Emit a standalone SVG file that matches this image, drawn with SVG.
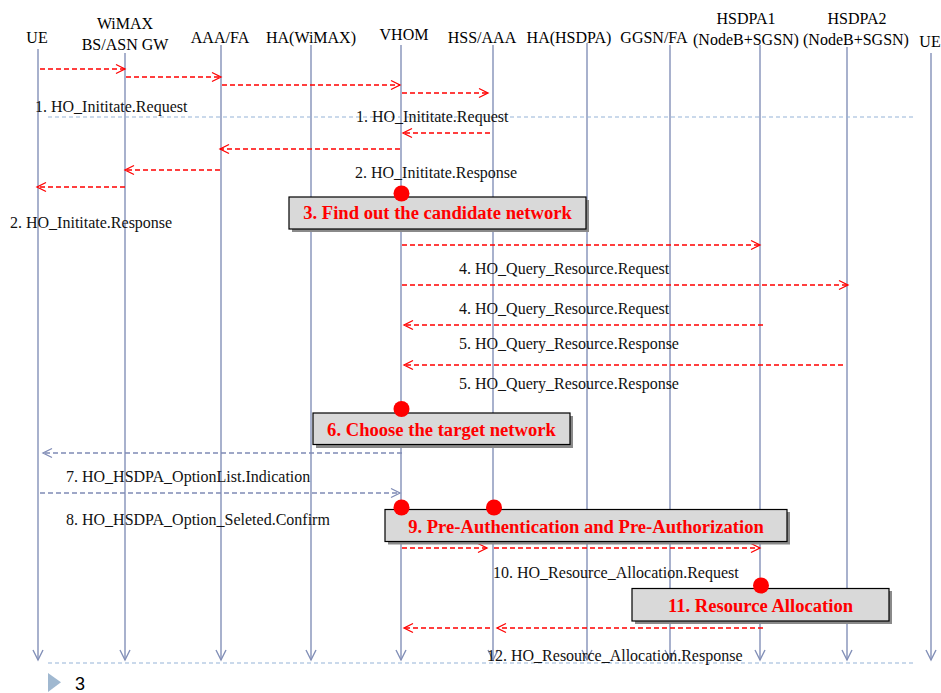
<svg xmlns="http://www.w3.org/2000/svg" width="941" height="693" viewBox="0 0 941 693">
  <style>
    .hdr { font-family: "Liberation Serif", "Times New Roman", serif; font-size: 16px; fill: #000; text-anchor: middle; }
    .lbl { font-family: "Liberation Serif", "Times New Roman", serif; font-size: 16px; fill: #111; }
    .life { stroke: #8390b8; stroke-width: 1.4; fill: none; }
    .red { stroke: #ff0000; stroke-width: 1.3; stroke-dasharray: 5 3; fill: none; }
    .blu { stroke: #7f8bb5; stroke-width: 1.3; stroke-dasharray: 5 3; fill: none; }
    .sep { stroke: #95b3d7; stroke-width: 1; stroke-dasharray: 4 3; fill: none; }
    .box { fill: #d9d9d9; stroke: #000; stroke-width: 1.2; }
    .shadow { fill: #8a8a8a; }
    .dot { fill: #ff0000; }
    .step { font-family: "Liberation Serif", "Times New Roman", serif; font-size: 18.6px; font-weight: bold; fill: #ff0000; text-anchor: middle; }
  </style>
  <defs>
    <marker id="arrRed" markerUnits="userSpaceOnUse" markerWidth="10" markerHeight="10" refX="9" refY="4.5" orient="auto" overflow="visible">
      <path d="M0,0 L9,4.5 L0,9" fill="none" stroke="#ff0000" stroke-width="1.3"/>
    </marker>
    <marker id="arrBlu" markerUnits="userSpaceOnUse" markerWidth="10" markerHeight="10" refX="9" refY="4.5" orient="auto" overflow="visible">
      <path d="M0,0 L9,4.5 L0,9" fill="none" stroke="#7f8bb5" stroke-width="1.3"/>
    </marker>
    <marker id="arrLife" markerUnits="userSpaceOnUse" markerWidth="12" markerHeight="12" refX="10" refY="5" orient="auto" overflow="visible">
      <path d="M0,0 L10,5 L0,10" fill="none" stroke="#8390b8" stroke-width="1.4"/>
    </marker>
  </defs>

  <rect width="941" height="693" fill="#ffffff"/>

  <!-- entity headers -->
  <g id="ue-left"><text class="hdr" x="37" y="43">UE</text></g>
  <g id="wimax-bs"><text class="hdr" x="125" y="29">WiMAX</text><text class="hdr" x="125" y="50">BS/ASN GW</text></g>
  <g id="aaa-fa"><text class="hdr" x="220" y="43">AAA/FA</text></g>
  <g id="ha-wimax"><text class="hdr" x="311" y="43">HA(WiMAX)</text></g>
  <g id="vhom"><text class="hdr" x="404" y="40">VHOM</text></g>
  <g id="hss-aaa"><text class="hdr" x="482" y="43">HSS/AAA</text></g>
  <g id="ha-hsdpa"><text class="hdr" x="569" y="43">HA(HSDPA)</text></g>
  <g id="ggsn-fa"><text class="hdr" x="654" y="43">GGSN/FA</text></g>
  <g id="hsdpa1"><text class="hdr" x="746" y="24">HSDPA1</text><text class="hdr" x="746" y="45">(NodeB+SGSN)</text></g>
  <g id="hsdpa2"><text class="hdr" x="857" y="24">HSDPA2</text><text class="hdr" x="856" y="45">(NodeB+SGSN)</text></g>
  <g id="ue-right"><text class="hdr" x="930" y="47">UE</text></g>

  <!-- lifelines -->
  <g id="lifelines">
    <path class="life" d="M38,49 V660" marker-end="url(#arrLife)"/>
    <path class="life" d="M125,53 V660" marker-end="url(#arrLife)"/>
    <path class="life" d="M221,45 V660" marker-end="url(#arrLife)"/>
    <path class="life" d="M311,45 V660" marker-end="url(#arrLife)"/>
    <path class="life" d="M401,45 V660" marker-end="url(#arrLife)"/>
    <path class="life" d="M493,45 V660" marker-end="url(#arrLife)"/>
    <path class="life" d="M587,43 V660" marker-end="url(#arrLife)"/>
    <path class="life" d="M670,45 V660" marker-end="url(#arrLife)"/>
    <path class="life" d="M760,45 V660" marker-end="url(#arrLife)"/>
    <path class="life" d="M847,47 V660" marker-end="url(#arrLife)"/>
    <path class="life" d="M931,53 V660" marker-end="url(#arrLife)"/>
  </g>

  <!-- messages -->
  <g id="connectors">
    <line class="sep" x1="48" y1="117" x2="915" y2="117"/>
    <line class="sep" x1="48" y1="663" x2="915" y2="663"/>

    <!-- 1. initiate request chain -->
    <line class="red" x1="40" y1="69" x2="125" y2="69" marker-end="url(#arrRed)"/>
    <line class="red" x1="126" y1="77" x2="221" y2="77" marker-end="url(#arrRed)"/>
    <line class="red" x1="222" y1="85" x2="400" y2="85" marker-end="url(#arrRed)"/>
    <line class="red" x1="402" y1="93" x2="488" y2="93" marker-end="url(#arrRed)"/>

    <!-- 2. initiate response chain -->
    <line class="red" x1="490" y1="133" x2="403" y2="133" marker-end="url(#arrRed)"/>
    <line class="red" x1="400" y1="149" x2="220" y2="149" marker-end="url(#arrRed)"/>
    <line class="red" x1="220" y1="170" x2="125" y2="170" marker-end="url(#arrRed)"/>
    <line class="red" x1="125" y1="187" x2="37" y2="187" marker-end="url(#arrRed)"/>

    <!-- 4/5. query resource -->
    <line class="red" x1="402" y1="245" x2="760" y2="245" marker-end="url(#arrRed)"/>
    <line class="red" x1="402" y1="285" x2="848" y2="285" marker-end="url(#arrRed)"/>
    <line class="red" x1="763" y1="325" x2="404" y2="325" marker-end="url(#arrRed)"/>
    <line class="red" x1="843" y1="365" x2="404" y2="365" marker-end="url(#arrRed)"/>

    <!-- 7/8. option list -->
    <line class="blu" x1="402" y1="453" x2="43" y2="453" marker-end="url(#arrBlu)"/>
    <line class="blu" x1="40" y1="493" x2="400" y2="493" marker-end="url(#arrBlu)"/>

    <!-- 10. resource allocation request -->
    <line class="red" x1="402" y1="548" x2="487" y2="548" marker-end="url(#arrRed)"/>
    <line class="red" x1="494" y1="548" x2="760" y2="548" marker-end="url(#arrRed)"/>

    <!-- 12. resource allocation response -->
    <line class="red" x1="763" y1="628" x2="497" y2="628" marker-end="url(#arrRed)"/>
    <line class="red" x1="490" y1="628" x2="404" y2="628" marker-end="url(#arrRed)"/>
  </g>

  <!-- message labels -->
  <g id="labels">
    <text class="lbl" x="35" y="112">1. HO_Inititate.Request</text>
    <text class="lbl" x="356" y="122">1. HO_Inititate.Request</text>
    <text class="lbl" x="355" y="178">2. HO_Inititate.Response</text>
    <text class="lbl" x="10" y="228">2. HO_Inititate.Response</text>
    <text class="lbl" x="459" y="274">4. HO_Query_Resource.Request</text>
    <text class="lbl" x="459" y="314">4. HO_Query_Resource.Request</text>
    <text class="lbl" x="459" y="349">5. HO_Query_Resource.Response</text>
    <text class="lbl" x="459" y="389">5. HO_Query_Resource.Response</text>
    <text class="lbl" x="66" y="482">7. HO_HSDPA_OptionList.Indication</text>
    <text class="lbl" x="66" y="525">8. HO_HSDPA_Option_Seleted.Confirm</text>
    <text class="lbl" x="493" y="578">10. HO_Resource_Allocation.Request</text>
    <text class="lbl" x="487" y="661">12. HO_Resource_Allocation.Response</text>
  </g>

  <!-- processing steps -->
  <g id="step3">
    <rect class="shadow" x="292" y="200" width="297" height="32"/>
    <rect class="box" x="289" y="197" width="297" height="32"/>
    <circle class="dot" cx="401.5" cy="193.5" r="8"/>
    <text class="step" x="437.5" y="219">3. Find out the candidate network</text>
  </g>
  <g id="step6">
    <rect class="shadow" x="316" y="416" width="257" height="32"/>
    <rect class="box" x="313" y="413" width="257" height="31.5"/>
    <circle class="dot" cx="401.5" cy="409" r="8"/>
    <text class="step" x="441.5" y="435.5">6. Choose the target network</text>
  </g>
  <g id="step9">
    <rect class="shadow" x="388" y="512" width="402" height="32.5"/>
    <rect class="box" x="385" y="509.5" width="402" height="32"/>
    <circle class="dot" cx="401.5" cy="507.5" r="8"/>
    <circle class="dot" cx="494" cy="507.5" r="8"/>
    <text class="step" x="586" y="532.5">9. Pre-Authentication and Pre-Authorization</text>
  </g>
  <g id="step11">
    <rect class="shadow" x="635" y="591" width="257" height="33"/>
    <rect class="box" x="632" y="588.5" width="257" height="32.5"/>
    <circle class="dot" cx="761" cy="585.5" r="8"/>
    <text class="step" x="760.5" y="612">11. Resource Allocation</text>
  </g>

  <!-- page footer -->
  <g id="footer">
    <path d="M48,673 L61,682.3 L48,692 Z" fill="#a0b8d0"/>
    <text x="75" y="690" font-family="'Liberation Sans', Arial, sans-serif" font-size="18" fill="#000">3</text>
  </g>
</svg>
